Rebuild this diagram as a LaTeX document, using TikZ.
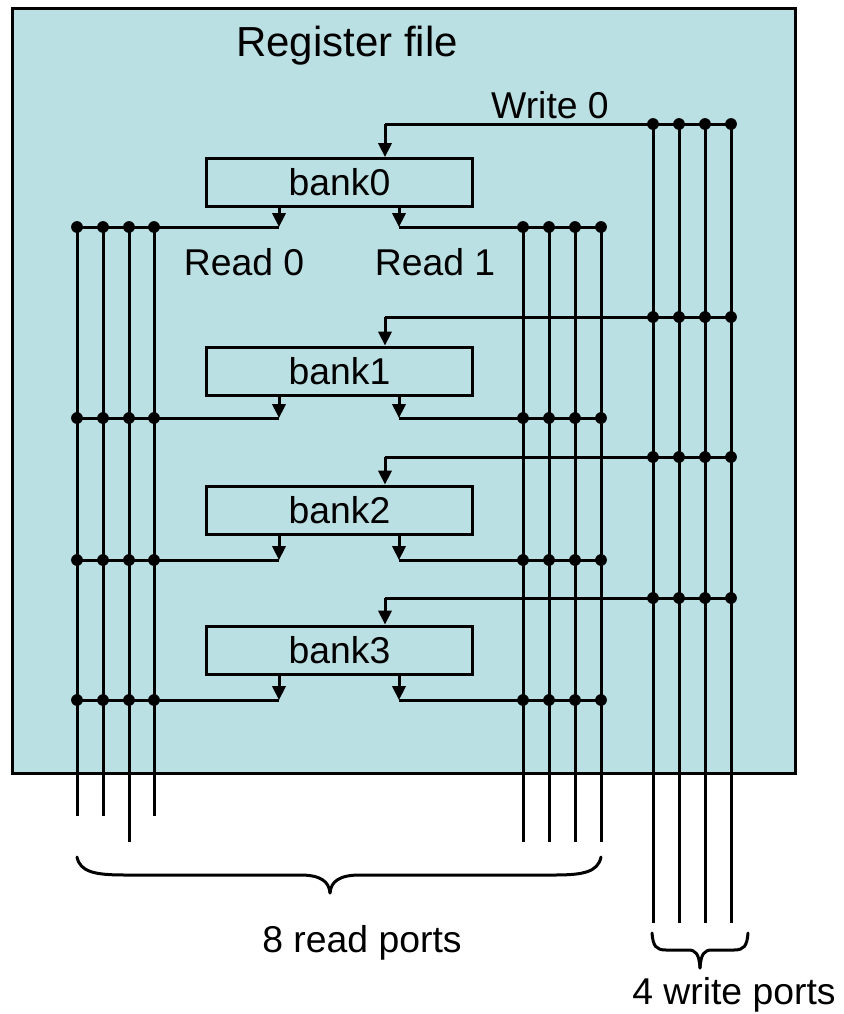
\documentclass[tikz,border=0pt]{standalone}
\usepackage{fontspec}
\setmainfont{Liberation Sans}
\usetikzlibrary{arrows.meta}
\definecolor{rfbg}{RGB}{187,224,227}
\begin{document}
\begin{tikzpicture}[x=0.75pt,y=-0.75pt,
  wire/.style={line width=2.25pt},
  arr/.style={wire,-{Triangle[width=10pt,length=10.5pt]}},
  dot/.style={circle,fill=black,inner sep=0pt,minimum size=8.8pt},
  bankbox/.style={draw,line width=2.25pt,minimum width=200pt,minimum height=36pt,inner sep=0pt,font=\fontsize{28}{30}\selectfont},
  lbl/.style={font=\fontsize{28}{30}\selectfont,inner sep=0pt},
  brace/.style={line width=2.25pt,line cap=round}]
\useasboundingbox (0,0) rectangle (843,1014);
\node[draw,line width=2.25pt,fill=rfbg,minimum width=587.25pt,minimum height=573.75pt,inner sep=0pt] (rf) at (403.5,390.5) {};
\node[lbl,font=\fontsize{31.5}{33}\selectfont] (title) at (347,46) {Register file};
\node[lbl] (wlab) at (550,105) {Write 0};
\node[lbl] (r0lab) at (244,262) {Read 0};
\node[lbl] (r1lab) at (435,262) {Read 1};
% end coordinates of port wires
\foreach \x/\j/\e in {77/1/816,103/2/816,129/3/842,154/4/816}
  \coordinate (Lend\j) at (\x,\e);
\foreach \x/\j in {523/1,549/2,575/3,601/4}
  \coordinate (Rend\j) at (\x,842);
\foreach \x/\j in {653/1,679/2,705/3,731/4}
  \coordinate (Wend\j) at (\x,923);
% banks and their connections
\foreach \i/\wy/\by/\ry in {0/124/182.5/227,1/317/371/418,2/457/510/560,3/598/650/700}{
  \node[bankbox] (b\i) at (339.5,\by) {bank\i};
  \coordinate (wa\i) at (385,\wy);
  \coordinate (ra\i) at (279,\ry);
  \coordinate (rb\i) at (399,\ry);
  \foreach \x/\j in {77/1,103/2,129/3,154/4} \coordinate (L\i-\j) at (\x,\ry);
  \foreach \x/\j in {523/1,549/2,575/3,601/4} \coordinate (R\i-\j) at (\x,\ry);
  \foreach \x/\j in {653/1,679/2,705/3,731/4} \coordinate (W\i-\j) at (\x,\wy);
  \draw[wire] (W\i-4) -- (wa\i);
  \draw[arr] (wa\i) -- (wa\i |- b\i.north);
  \draw[arr] (ra\i |- b\i.south) -- (ra\i);
  \draw[arr] (rb\i |- b\i.south) -- (rb\i);
  \draw[wire] (ra\i) -- (L\i-1);
  \draw[wire] (rb\i) -- (R\i-4);
}
% vertical port wires
\foreach \j in {1,2,3,4}{
  \draw[wire] (L0-\j) -- (Lend\j);
  \draw[wire] (R0-\j) -- (Rend\j);
  \draw[wire] (W0-\j) -- (Wend\j);
}
% junction dots
\foreach \i in {0,1,2,3}{
  \foreach \j in {1,2,3,4}{
    \node[dot] (dL\i-\j) at (L\i-\j) {};
    \node[dot] (dR\i-\j) at (R\i-\j) {};
    \node[dot] (dW\i-\j) at (W\i-\j) {};
  }
}
% braces
\coordinate (rbL) at (77,857);
\coordinate (rbR) at (601,857);
\coordinate (rbT) at (330,893);
\draw[brace] (rbL) .. controls (80,872) and (95,875) .. (125,875) -- (300,875)
  .. controls (320,875) and (329,881) .. (rbT);
\draw[brace] (rbR) .. controls (598,872) and (583,875) .. (555,875) -- (360,875)
  .. controls (340,875) and (331,881) .. (rbT);
\coordinate (wbL) at (652,933);
\coordinate (wbR) at (748,933);
\coordinate (wbT) at (700,968);
\draw[brace] (wbL) .. controls (653,946) and (656,950) .. (666,950) -- (688,950)
  .. controls (696,950) and (699,954) .. (wbT);
\draw[brace] (wbR) .. controls (747,946) and (744,950) .. (734,950) -- (712,950)
  .. controls (704,950) and (701,954) .. (wbT);
\node[lbl] (rplab) at (362,943) {8 read ports};
\node[lbl] (wplab) at (734,995) {4 write ports};
\end{tikzpicture}
\end{document}
